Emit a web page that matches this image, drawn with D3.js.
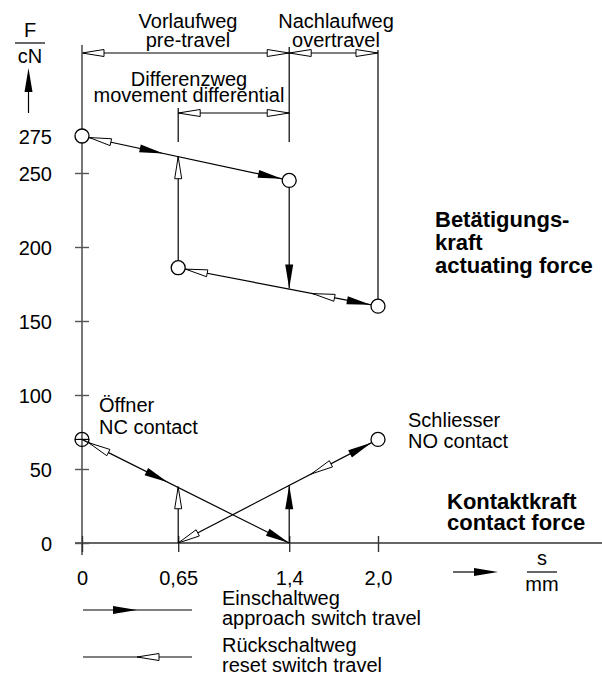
<!DOCTYPE html>
<html>
<head>
<meta charset="utf-8">
<script src="https://cdn.jsdelivr.net/npm/d3@7"></script>
<style>
  body { margin: 0; background: #fff; }
  svg { display: block; font-family: "Liberation Sans", Arial, sans-serif; }
  .lbl { font-size: 20px; fill: #000; }
  .bold { font-size: 22px; font-weight: bold; fill: #000; }
</style>
</head>
<body>
<svg id="chart"></svg>
<script>
// travel s in mm, force F in cN
const xTickValues = [0, 0.65, 1.4, 2.0];
const xTickLabels = ['0', '0,65', '1,4', '2,0'];
const yTickValues = [0, 50, 100, 150, 200, 250, 275];

// actuating force
const actuatingPoints = [[0, 275], [1.4, 245], [0.65, 186], [2.0, 160]];
const actuatingSegments = [
  [[0, 275], [1.4, 245]],
  [[1.4, 245], [1.4, 172]],
  [[2.0, 160], [0.65, 186]],
  [[0.65, 186], [0.65, 261]]
];

// contact force (NC opens, NO closes)
const contactPoints = [[0, 70], [2.0, 70]];
const contactSegments = [
  [[0, 70], [1.4, 0]],
  [[0.65, 0], [0.65, 38]],
  [[0.65, 0], [2.0, 70]],
  [[1.4, 0], [1.4, 39]]
];

// arrow heads: approach = filled, reset = open
const actuatingArrows = [
  {seg: 0, tip: 'from', kind: 'reset', edge: true},
  {seg: 0, tip: 0.55, dir: 1, kind: 'approach'},
  {seg: 0, tip: 'to', kind: 'approach', edge: true},
  {seg: 1, tip: 'to', kind: 'approach'},
  {seg: 2, tip: 1.56, dir: 1, kind: 'reset'},
  {seg: 2, tip: 'to', kind: 'reset', edge: true},
  {seg: 2, tip: 'from', kind: 'approach', edge: true},
  {seg: 3, tip: 'to', kind: 'reset'}
];
const contactArrows = [
  {seg: 0, tip: 'from', kind: 'reset', edge: true},
  {seg: 0, tip: 0.58, dir: 1, kind: 'approach'},
  {seg: 0, tip: 'to', kind: 'approach'},
  {seg: 1, tip: 'to', kind: 'reset'},
  {seg: 2, tip: 'to', kind: 'approach', edge: true},
  {seg: 2, tip: 1.55, dir: -1, kind: 'reset'},
  {seg: 2, tip: 'from', kind: 'reset'},
  {seg: 3, tip: 'to', kind: 'approach'}
];

// dimension lines above the chart
const dimSpans = [[0, 1.4], [1.4, 2.0], [0.65, 1.4]];
const dimTexts = [['Vorlaufweg', 'pre-travel'], ['Nachlaufweg', 'overtravel'], ['Differenzweg', 'movement differential']];

const width = 602, height = 676, R = 7;

const svg = d3.select('#chart').attr('width', width).attr('height', height);

const x = d3.scaleLinear().domain([0, 2]).range([82, 378]);
const y = d3.scaleLinear().domain([0, 275]).range([543, 136]);

function arrowHead(g, tip, u, kind) {
  const L = kind === 'approach' ? 24 : 22;
  const w = kind === 'approach' ? 4 : 3.5;
  const n = [-u[1], u[0]];
  const b = [tip[0] - L * u[0], tip[1] - L * u[1]];
  const pts = [tip, [b[0] + w * n[0], b[1] + w * n[1]], [b[0] - w * n[0], b[1] - w * n[1]]];
  const p = g.append('path').attr('d', d3.line()(pts) + 'Z');
  if (kind === 'approach') p.attr('fill', '#000').attr('stroke', 'none');
  else p.attr('fill', '#fff').attr('stroke', '#000').attr('stroke-width', 1).attr('stroke-linejoin', 'round');
}

function drawCurve(segments, arrows) {
  const g = svg.append('g');
  segments.forEach(s => {
    g.append('line')
      .attr('x1', x(s[0][0])).attr('y1', y(s[0][1]))
      .attr('x2', x(s[1][0])).attr('y2', y(s[1][1]))
      .attr('stroke', '#000').attr('stroke-width', 1.2);
  });
  arrows.forEach(a => {
    const s = segments[a.seg];
    const p0 = [x(s[0][0]), y(s[0][1])], p1 = [x(s[1][0]), y(s[1][1])];
    const len = Math.hypot(p1[0] - p0[0], p1[1] - p0[1]);
    const f = [(p1[0] - p0[0]) / len, (p1[1] - p0[1]) / len];
    let tip, u;
    if (a.tip === 'to') { tip = p1; u = f; }
    else if (a.tip === 'from') { tip = p0; u = [-f[0], -f[1]]; }
    else {
      const t = (x(a.tip) - p0[0]) / (p1[0] - p0[0]);
      tip = [p0[0] + t * (p1[0] - p0[0]), p0[1] + t * (p1[1] - p0[1])];
      u = [a.dir * f[0], a.dir * f[1]];
    }
    if (a.edge) tip = [tip[0] - u[0] * (R + 0.5), tip[1] - u[1] * (R + 0.5)];
    arrowHead(g, tip, u, a.kind);
  });
  return g;
}

// extension lines for the dimensions
const ext = svg.append('g').attr('stroke', '#000').attr('stroke-width', 1.2);
ext.append('line').attr('x1', x(1.4)).attr('x2', x(1.4)).attr('y1', 47).attr('y2', 142);
ext.append('line').attr('x1', x(0.65)).attr('x2', x(0.65)).attr('y1', 108).attr('y2', 142);
ext.append('line').attr('x1', x(2.0)).attr('x2', x(2.0)).attr('y1', 50).attr('y2', y(160));

const dimRowY = [53, 53, 113];
dimSpans.forEach((d, i) => {
  const g = svg.append('g');
  g.append('line').attr('x1', x(d[0])).attr('x2', x(d[1]))
    .attr('y1', dimRowY[i]).attr('y2', dimRowY[i])
    .attr('stroke', '#000').attr('stroke-width', 1.2);
  arrowHead(g, [x(d[0]), dimRowY[i]], [-1, 0], 'reset');
  arrowHead(g, [x(d[1]), dimRowY[i]], [1, 0], 'reset');
});
const dimLabelX = [188, 336, 189];
const dimLabelY = [[28, 47], [28, 47], [86, 102]];
dimTexts.forEach((t, i) => {
  t.forEach((line, j) => {
    svg.append('text').attr('class', 'lbl').attr('text-anchor', 'middle')
      .attr('x', dimLabelX[i]).attr('y', dimLabelY[i][j]).text(line);
  });
});

// axes
const axisG = svg.append('g');
axisG.append('line').attr('x1', x(0)).attr('x2', x(0)).attr('y1', 45).attr('y2', 555)
  .attr('stroke', '#555').attr('stroke-width', 1.6);
axisG.append('line').attr('x1', 75).attr('x2', 602).attr('y1', y(0)).attr('y2', y(0))
  .attr('stroke', '#333').attr('stroke-width', 1.4);

const yAxisG = svg.append('g').attr('transform', `translate(${x(0)},0)`)
  .call(d3.axisLeft(y).tickValues(yTickValues).tickSizeInner(7).tickSizeOuter(0).tickPadding(23));
yAxisG.select('.domain').remove();
yAxisG.selectAll('.tick line').attr('x1', 7).attr('stroke', '#555').attr('stroke-width', 1.4);
yAxisG.selectAll('.tick text').attr('class', 'lbl').attr('font-size', null).attr('font-family', null).attr('dy', '0.36em');

const xAxisG = svg.append('g').attr('transform', `translate(0,${y(0)})`)
  .call(d3.axisBottom(x).tickValues(xTickValues).tickFormat((d, i) => xTickLabels[i]).tickSizeInner(9).tickSizeOuter(0));
xAxisG.select('.domain').remove();
xAxisG.selectAll('.tick line').attr('y1', -7).attr('stroke', '#333').attr('stroke-width', 1.4);
xAxisG.selectAll('.tick text').attr('class', 'lbl').attr('font-size', null).attr('font-family', null)
  .attr('y', 42).attr('dy', 0);

// curves
drawCurve(actuatingSegments, actuatingArrows);
drawCurve(contactSegments, contactArrows);

svg.append('g').selectAll('circle').data(actuatingPoints.concat([contactPoints[1]])).join('circle')
  .attr('cx', d => x(d[0])).attr('cy', d => y(d[1])).attr('r', R)
  .attr('fill', '#fff').attr('stroke', '#000').attr('stroke-width', 1.3);
// NC start point: open circle with crossing line
svg.append('circle').attr('cx', x(contactPoints[0][0])).attr('cy', y(contactPoints[0][1])).attr('r', R)
  .attr('fill', 'none').attr('stroke', '#000').attr('stroke-width', 1.3);
svg.append('line').attr('x1', x(0) - R).attr('x2', x(0) + R)
  .attr('y1', y(contactPoints[0][1])).attr('y2', y(contactPoints[0][1]))
  .attr('stroke', '#000').attr('stroke-width', 1.2);

// axis titles
svg.append('text').attr('class', 'lbl').attr('text-anchor', 'middle').attr('x', 30).attr('y', 37).text('F');
svg.append('line').attr('x1', 15).attr('x2', 45).attr('y1', 43).attr('y2', 43).attr('stroke', '#000').attr('stroke-width', 1.2);
svg.append('text').attr('class', 'lbl').attr('text-anchor', 'middle').attr('x', 30).attr('y', 63).text('cN');
svg.append('line').attr('x1', 28.5).attr('x2', 28.5).attr('y1', 80).attr('y2', 113).attr('stroke', '#000').attr('stroke-width', 1.2);
arrowHead(svg, [28.5, 68], [0, -1], 'approach');

svg.append('text').attr('class', 'lbl').attr('text-anchor', 'middle').attr('x', 542).attr('y', 565).text('s');
svg.append('line').attr('x1', 527).attr('x2', 557).attr('y1', 572).attr('y2', 572).attr('stroke', '#000').attr('stroke-width', 1.2);
svg.append('text').attr('class', 'lbl').attr('text-anchor', 'middle').attr('x', 542).attr('y', 591).text('mm');
svg.append('line').attr('x1', 453).attr('x2', 480).attr('y1', 572).attr('y2', 572).attr('stroke', '#000').attr('stroke-width', 1.2);
arrowHead(svg, [498, 572], [1, 0], 'approach');

// curve labels
const bold = [['Betätigungs-', 435, 227], ['kraft', 435, 250], ['actuating force', 435, 273],
              ['Kontaktkraft', 447, 509], ['contact force', 447, 530]];
bold.forEach(b => svg.append('text').attr('class', 'bold').attr('x', b[1]).attr('y', b[2]).text(b[0]));
const plain = [['Öffner', 99, 412], ['NC contact', 99, 434], ['Schliesser', 408, 427], ['NO contact', 408, 448]];
plain.forEach(b => svg.append('text').attr('class', 'lbl').attr('x', b[1]).attr('y', b[2]).text(b[0]));

// legend
const legendG = svg.append('g');
legendG.append('line').attr('x1', 83).attr('x2', 192).attr('y1', 610).attr('y2', 610).attr('stroke', '#000').attr('stroke-width', 1.2);
arrowHead(legendG, [137, 610], [1, 0], 'approach');
legendG.append('line').attr('x1', 83).attr('x2', 192).attr('y1', 657).attr('y2', 657).attr('stroke', '#000').attr('stroke-width', 1.2);
arrowHead(legendG, [137, 657], [-1, 0], 'reset');
[['Einschaltweg', 605], ['approach switch travel', 625], ['Rückschaltweg', 652], ['reset switch travel', 672]]
  .forEach(t => legendG.append('text').attr('class', 'lbl').attr('x', 222).attr('y', t[1]).text(t[0]));
</script>
</body>
</html>
